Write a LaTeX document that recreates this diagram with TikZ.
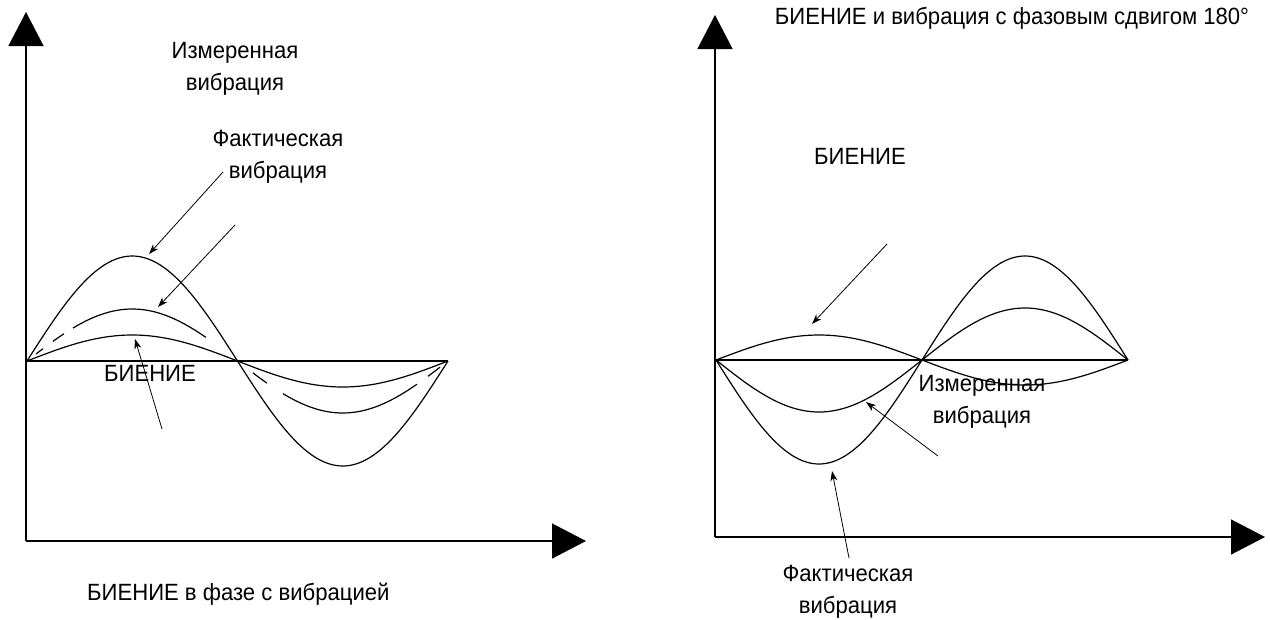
\documentclass[tikz,border=0pt]{standalone}
\usepackage{fontspec}
\setmainfont{Liberation Sans}[FakeStretch=0.94]
\usetikzlibrary{arrows.meta}
\begin{document}
\begin{tikzpicture}[x=1pt,y=-1pt,
  lbl/.style={font=\fontsize{23.5}{32}\selectfont, inner sep=0pt, align=center},
  axis/.style={line width=1.4pt, -{Triangle[length=34pt,width=35pt]}},
  curve/.style={line width=1.2pt},
  baseln/.style={line width=1.4pt},
  pointer/.style={line width=0.8pt, -{Stealth[length=10pt,width=7pt,inset=3pt]}}]
\useasboundingbox (0,0) rectangle (1270,619);

% ---------- left panel ----------
\coordinate (Lo) at (26,541);
\coordinate (Ly) at (26,12);
\coordinate (Lx) at (586,541);
\draw[axis] (Lo) -- (Ly);
\draw[axis] (Lo) -- (Lx);
\coordinate (Lb0) at (27,361);
\coordinate (Lb1) at (448,361);
\draw[baseln] (Lb0) -- (Lb1);
\draw[curve] plot[domain=0:360,samples=121,smooth] ({27+1.16944*\x},{361-105*sin(\x)});
\draw[curve] plot[domain=0:360,samples=121,smooth] ({27+1.16944*\x},{361-26*sin(\x)});
\foreach \a/\b in {7.7/13.7, 22.2/31.6, 39.3/153, 193.2/205.2, 218.9/333.5, 342.9/353.2}
  \draw[curve] plot[domain=\a:\b,samples=40,smooth] ({27+1.16944*\x},{361-52*sin(\x)});

\node[lbl] (Lmeas) at (235,69) {Измеренная\\вибрация};
\node[lbl] (Lact) at (278,157) {Фактическая\\вибрация};
\node[lbl] (Lbeat) at (150,373) {БИЕНИЕ};
\node[lbl, anchor=west] (Lcap) at (87,594) {БИЕНИЕ в фазе с вибрацией};

\coordinate (a1s) at (223,172); \coordinate (a1e) at (149,254);
\coordinate (a2s) at (235,225); \coordinate (a2e) at (158,307);
\coordinate (a3s) at (162,429); \coordinate (a3e) at (135,339);
\draw[pointer] (a1s) -- (a1e);
\draw[pointer] (a2s) -- (a2e);
\draw[pointer] (a3s) -- (a3e);

% ---------- right panel ----------
\coordinate (Ro) at (715,537);
\coordinate (Ry) at (715,15);
\coordinate (Rx) at (1265,537);
\draw[axis] (Ro) -- (Ry);
\draw[axis] (Ro) -- (Rx);
\coordinate (Rb0) at (716,360);
\coordinate (Rb1) at (1128,360);
\draw[baseln] (Rb0) -- (Rb1);
\draw[curve] plot[domain=0:360,samples=121,smooth] ({716+1.14444*\x},{360-25*sin(\x)});
\draw[curve] plot[domain=0:360,samples=121,smooth] ({716+1.14444*\x},{360+52*sin(\x)});
\draw[curve] plot[domain=0:360,samples=121,smooth] ({716+1.14444*\x},{360+104*sin(\x)});

\node[lbl] (Rtitle) at (1012,18) {БИЕНИЕ и вибрация с фазовым сдвигом 180°};
\node[lbl] (Rbeat) at (860,156) {БИЕНИЕ};
\node[lbl] (Rmeas) at (982,402) {Измеренная\\вибрация};
\node[lbl] (Ract) at (848,592) {Фактическая\\вибрация};

\coordinate (b1s) at (887,244); \coordinate (b1e) at (812,324);
\coordinate (b2s) at (938,456); \coordinate (b2e) at (866,402);
\coordinate (b3s) at (849,558); \coordinate (b3e) at (832,471);
\draw[pointer] (b1s) -- (b1e);
\draw[pointer] (b2s) -- (b2e);
\draw[pointer] (b3s) -- (b3e);
\end{tikzpicture}
\end{document}
